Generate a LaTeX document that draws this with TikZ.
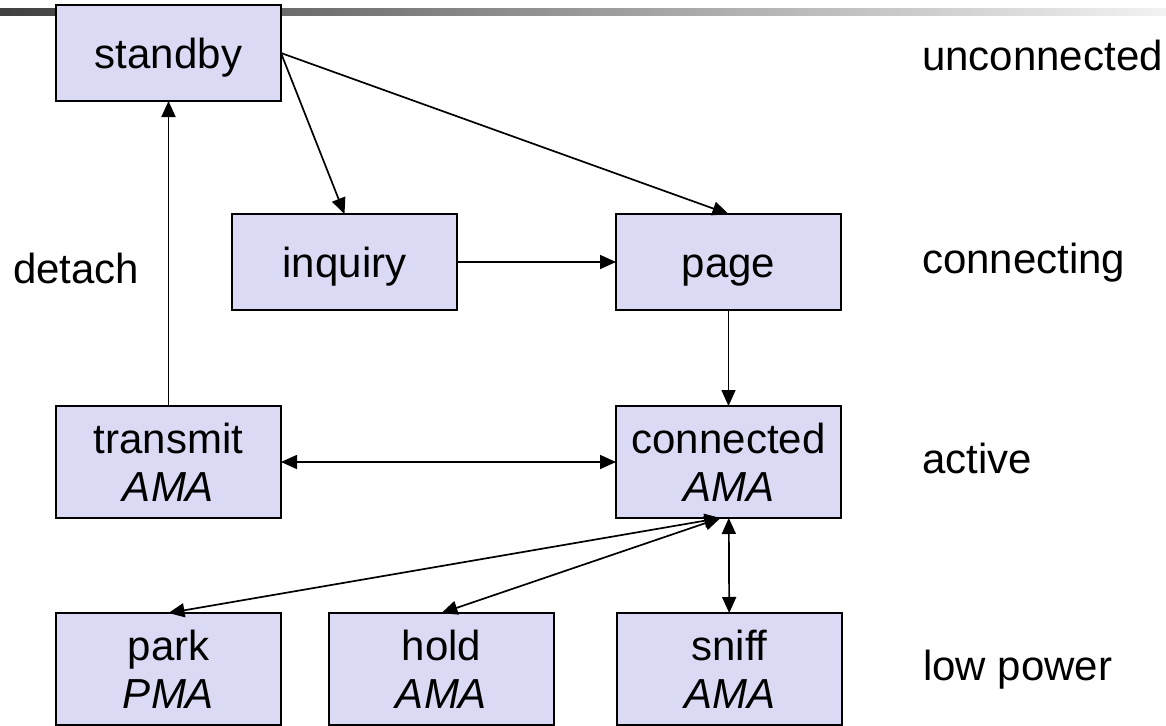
\documentclass[tikz,border=0pt]{standalone}
\usepackage{fontspec}
\setmainfont{Liberation Sans}
\usetikzlibrary{arrows.meta,positioning}
\definecolor{statefill}{RGB}{218,218,244}

\begin{document}
\begin{tikzpicture}[>={Triangle[length=16pt,width=14pt]},
	every edge/.style={draw,line width=1.7pt},
	box node/.style={draw,line width=2pt,fill=statefill,minimum width=225pt,
		inner sep=0pt,outer sep=0pt,font=\fontsize{42}{48}\selectfont},
	state node/.style={box node,minimum height=96pt,text height=31pt,text depth=0pt},
	mode node/.style={box node,minimum height=112pt,align=center},
	level node/.style={font=\fontsize{42}{48}\selectfont,inner sep=0pt,anchor=mid west}]

	\useasboundingbox (0,0) rectangle (1166pt,-725pt);
	\shade[left color=black!75,right color=black!5] (0,-9pt) rectangle (1166pt,-16pt);

	\node[mode node] (connected) at (728.5pt,-462pt) {connected\\\textit{AMA}};
	\node[state node] (page) [above=96pt of connected] {page};
	\node[state node] (inquiry) [left=159pt of page] {inquiry};
	\node[mode node] (transmit) [left=335pt of connected] {transmit\\\textit{AMA}};
	\node[state node] (standby) [above=305pt of transmit] {standby};
	\node[mode node] (park) [below=95pt of transmit] {park\\\textit{PMA}};
	\node[mode node] (hold) [right=48pt of park] {hold\\\textit{AMA}};
	\node[mode node] (sniff) [right=63pt of hold] {sniff\\\textit{AMA}};

	% row labels
	\node[level node] (unconn) at (922pt,-68pt) {unconnected};
	\node[level node] (conn) [right=81pt of page, anchor=mid west, yshift=-9pt] {connecting};
	\node[level node] (act) [right=81pt of connected, anchor=mid west, yshift=-9pt] {active};
	\node[level node] (low) [right=81pt of sniff, anchor=mid west, yshift=-9pt] {low power};
	\node[level node] (detach) at (13pt,-281pt) {detach};

	\coordinate (lowhub) at ([xshift=-8pt]connected.south);

	\path
	(standby.east) edge[->] (inquiry.north)
	(standby.east) edge[->] (page.north)
	(inquiry) edge[->] (page)
	(page) edge[->] (connected)
	(transmit) edge[->] (standby)
	(transmit) edge[<->] (connected)
	(lowhub) edge[<->] (park.north)
	(lowhub) edge[<->] (hold.north)
	(connected) edge[<->] (sniff);

\end{tikzpicture}
\end{document}
